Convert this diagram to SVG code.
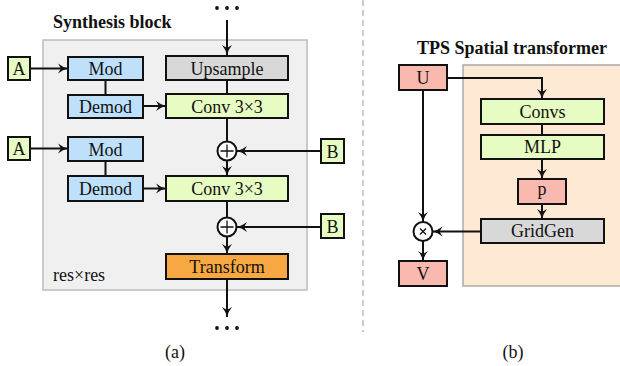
<svg xmlns="http://www.w3.org/2000/svg" width="620" height="366" viewBox="0 0 620 366">
<style>
text{font-family:"Liberation Serif","Times New Roman",serif;fill:#111}
.lbl{font-size:18px;text-anchor:middle}
.ttl{font-size:18px;font-weight:bold}
.box{stroke:#111;stroke-width:2}
.blue{fill:#bee0fb}
.green{fill:#e6fcc2}
.gray{fill:#d8d8d8}
.orange{fill:#f7a843}
.salmon{fill:#f9b9ae}
.c{fill:none;stroke:#111;stroke-width:2}
.a{marker-end:url(#ah)}
.dot{fill:#111}
</style>
<defs>
<marker id="ah" viewBox="0 0 12 12" refX="11" refY="6" markerWidth="12" markerHeight="12" markerUnits="userSpaceOnUse" orient="auto">
<path d="M1,1 Q6,5 11,6 Q6,7 1,11 L4,6 Z" fill="#111"/>
</marker>
</defs>
<rect width="620" height="366" fill="#fff"/>
<line x1="363" y1="0" x2="363" y2="332" stroke="#cccccc" stroke-width="2" stroke-dasharray="6 4"/>

<g id="synthesis-panel">
<rect x="43" y="40" width="264" height="250" fill="#f0f0f0" stroke="#bbbbbb" stroke-width="1.5"/>
<text class="ttl" x="53" y="28">Synthesis block</text>
<text x="53" y="281" style="font-size:18px">res×res</text>
<text class="lbl" x="175" y="358">(a)</text>
</g>
<g id="tps-panel">
<rect x="463" y="65" width="165" height="221" fill="#fde9d4" stroke="#aaaaaa" stroke-width="1.5"/>
<text class="ttl" x="512" y="54" text-anchor="middle">TPS Spatial transformer</text>
<text class="lbl" x="513" y="358">(b)</text>
</g>

<g id="connectors">
<circle class="dot" cx="217" cy="8" r="1.9"/><circle class="dot" cx="227" cy="8" r="1.9"/><circle class="dot" cx="237" cy="8" r="1.9"/>
<line class="c a" x1="227" y1="20" x2="227" y2="55"/>
<line class="c a" x1="30" y1="68.5" x2="68" y2="68.5"/>
<line class="c" x1="105.5" y1="80" x2="105.5" y2="95"/>
<line class="c" x1="227" y1="80" x2="227" y2="95"/>
<line class="c a" x1="143" y1="106" x2="166" y2="106"/>
<line class="c" x1="227" y1="118" x2="227" y2="141.5"/>
<line class="c a" x1="30" y1="148.5" x2="68" y2="148.5"/>
<line class="c" x1="105.5" y1="161" x2="105.5" y2="176"/>
<line class="c a" x1="321" y1="151" x2="237" y2="151"/>
<line class="c a" x1="227" y1="160.5" x2="227" y2="176"/>
<line class="c a" x1="143" y1="188.5" x2="166" y2="188.5"/>
<line class="c" x1="227" y1="201" x2="227" y2="217.5"/>
<line class="c a" x1="321" y1="227" x2="237" y2="227"/>
<line class="c a" x1="227" y1="236.5" x2="227" y2="254"/>
<line class="c a" x1="227" y1="279" x2="227" y2="317"/>
<circle class="dot" cx="217" cy="328" r="1.9"/><circle class="dot" cx="227" cy="328" r="1.9"/><circle class="dot" cx="237" cy="328" r="1.9"/>

<polyline class="c a" points="447,78 542,78 542,99"/>
<line class="c" x1="542" y1="124" x2="542" y2="135"/>
<line class="c a" x1="542" y1="159" x2="542" y2="179"/>
<line class="c a" x1="542" y1="204" x2="542" y2="219"/>
<line class="c a" x1="423" y1="90" x2="423" y2="222"/>
<line class="c a" x1="481" y1="231.5" x2="432.5" y2="231.5"/>
<line class="c a" x1="423" y1="241" x2="423" y2="261"/>
</g>

<g id="A1"><rect class="box green" x="8" y="57" width="22" height="23"/><text class="lbl" x="19" y="75">A</text></g>
<g id="Mod1"><rect class="box blue" x="68" y="57" width="75" height="23"/><text class="lbl" x="105.5" y="75">Mod</text></g>
<g id="Upsample"><rect class="box gray" x="166" y="56" width="122" height="24"/><text class="lbl" x="227" y="74.5">Upsample</text></g>
<g id="Demod1"><rect class="box blue" x="68" y="95" width="75" height="23"/><text class="lbl" x="105.5" y="112.5">Demod</text></g>
<g id="Conv1"><rect class="box green" x="166" y="94" width="122" height="24"/><text class="lbl" x="227" y="112.5">Conv 3×3</text></g>
<g id="Plus1"><circle cx="227" cy="151" r="9.5" fill="#fff" stroke="#111" stroke-width="2"/><path d="M220.5,151H233.5M227,144.5V157.5" stroke="#111" stroke-width="1.3"/></g>
<g id="B1"><rect class="box green" x="321" y="139" width="23" height="24"/><text class="lbl" x="332.5" y="157.5">B</text></g>
<g id="A2"><rect class="box green" x="8" y="137" width="22" height="23"/><text class="lbl" x="19" y="155">A</text></g>
<g id="Mod2"><rect class="box blue" x="68" y="137" width="75" height="24"/><text class="lbl" x="105.5" y="155.5">Mod</text></g>
<g id="Demod2"><rect class="box blue" x="68" y="176" width="75" height="25"/><text class="lbl" x="105.5" y="194.5">Demod</text></g>
<g id="Conv2"><rect class="box green" x="166" y="176" width="122" height="25"/><text class="lbl" x="227" y="194.5">Conv 3×3</text></g>
<g id="Plus2"><circle cx="227" cy="227" r="9.5" fill="#fff" stroke="#111" stroke-width="2"/><path d="M220.5,227H233.5M227,220.5V233.5" stroke="#111" stroke-width="1.3"/></g>
<g id="B2"><rect class="box green" x="321" y="214" width="23" height="24"/><text class="lbl" x="332.5" y="232.5">B</text></g>
<g id="Transform"><rect class="box orange" x="166" y="254" width="122" height="25"/><text class="lbl" x="227" y="272.5">Transform</text></g>

<g id="U"><rect class="box salmon" x="399" y="65" width="48" height="25"/><text class="lbl" x="423" y="83.5">U</text></g>
<g id="Convs"><rect class="box green" x="481" y="99" width="123" height="25"/><text class="lbl" x="542.5" y="117.5">Convs</text></g>
<g id="MLP"><rect class="box green" x="481" y="135" width="123" height="24"/><text class="lbl" x="542.5" y="153">MLP</text></g>
<g id="p"><rect class="box salmon" x="518" y="179" width="48" height="25"/><text class="lbl" x="542" y="195">p</text></g>
<g id="GridGen"><rect class="box gray" x="481" y="219" width="123" height="24"/><text class="lbl" x="542.5" y="237">GridGen</text></g>
<g id="Times"><circle cx="423" cy="231.5" r="9.5" fill="#fff" stroke="#111" stroke-width="2"/><path d="M420,228.5L426,234.5M426,228.5L420,234.5" stroke="#111" stroke-width="1.3"/></g>
<g id="V"><rect class="box salmon" x="399" y="261" width="48" height="25"/><text class="lbl" x="423" y="279.5">V</text></g>
</svg>
